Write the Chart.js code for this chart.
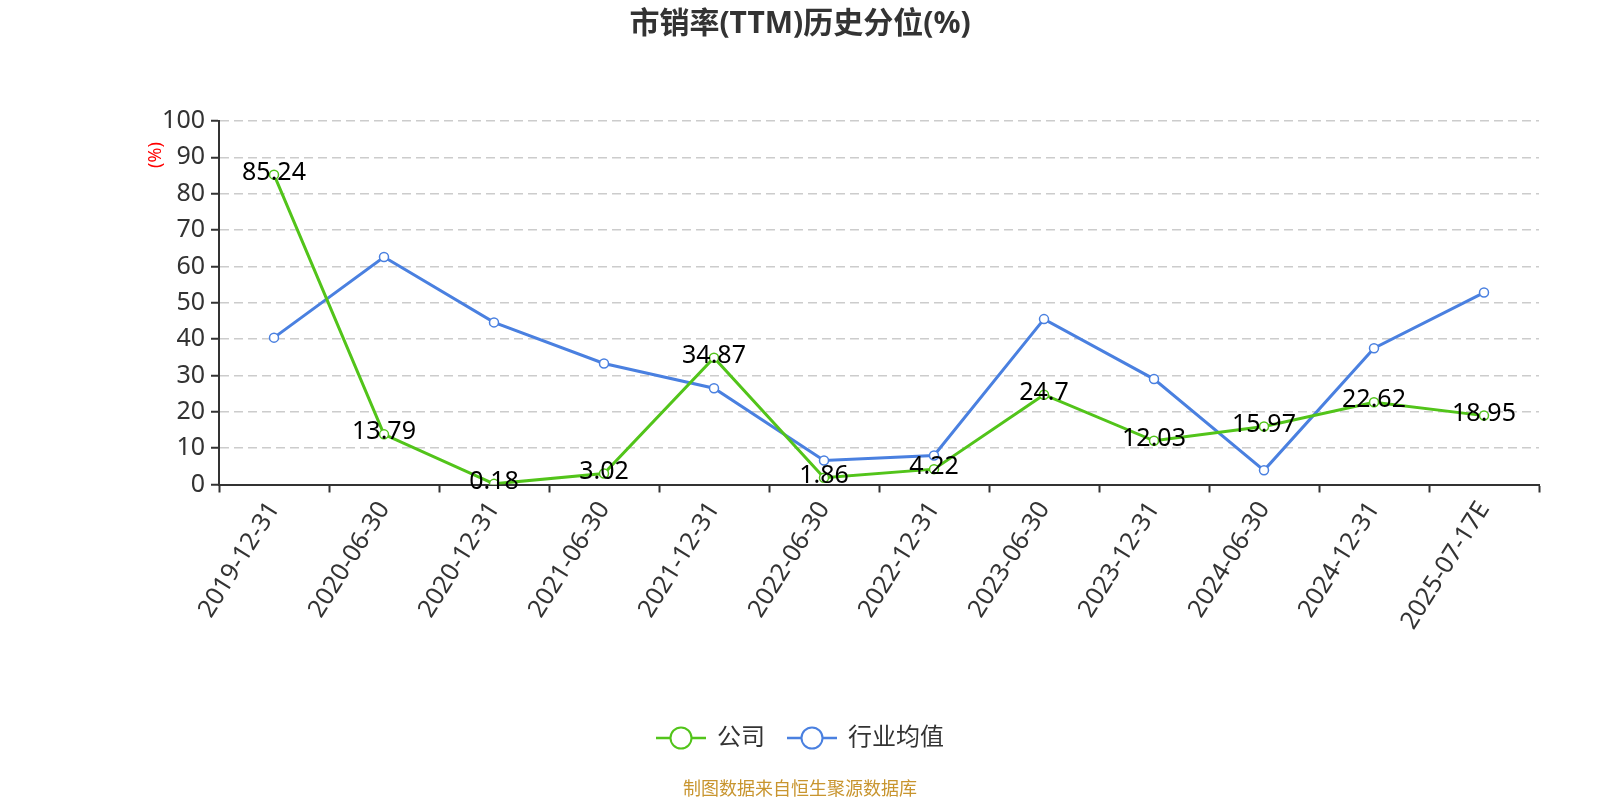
<!DOCTYPE html>
<html>
<head>
<meta charset="utf-8">
<script src="https://cdn.jsdelivr.net/npm/chart.js@4.4.1/dist/chart.umd.min.js"></script>
<style>
  html, body { margin: 0; padding: 0; background: #fff; }
  #wrap { width: 1600px; height: 800px; position: relative; }
</style>
</head>
<body>
<div id="wrap"><canvas id="chart"></canvas></div>
<script>
// ================= DATA =================
const categories = [
  "2019-12-31", "2020-06-30", "2020-12-31", "2021-06-30", "2021-12-31", "2022-06-30",
  "2022-12-31", "2023-06-30", "2023-12-31", "2024-06-30", "2024-12-31", "2025-07-17E"
];
const companyValues = [85.24, 13.79, 0.18, 3.02, 34.87, 1.86, 4.22, 24.7, 12.03, 15.97, 22.62, 18.95];
const industryValues = [40.4, 62.6, 44.6, 33.3, 26.5, 6.6, 8.0, 45.5, 29.0, 3.9, 37.5, 52.8];
const seriesNames = ["公司", "行业均值"];
const yMin = 0;
const yMax = 100;
const yStep = 10;

const titleText = "市销率(TTM)历史分位(%)";
const unitText = "(%)";
const sourceText = "制图数据来自恒生聚源数据库";

const GREEN = "#52c41a";
const BLUE = "#4a80e0";
const FONT = "'Noto Sans', 'Noto Sans CJK SC', sans-serif";


// ================= TEXT + LEGEND PLUGIN =================
const decorPlugin = {
  id: "decor",
  afterDraw(chart) {
    const ctx = chart.ctx;
    ctx.save();

    // title
    ctx.fillStyle = "#333";
    ctx.font = "bold 30px " + FONT;
    ctx.textAlign = "center";
    ctx.textBaseline = "middle";
    ctx.fillText(titleText, 800, 24);

    // source
    ctx.fillStyle = "#c8952f";
    ctx.font = "18px " + FONT;
    ctx.fillText(sourceText, 800, 790);

    // y unit
    ctx.save();
    ctx.translate(156, 155);
    ctx.rotate(-Math.PI / 2);
    ctx.fillStyle = "red";
    ctx.font = "18px " + FONT;
    ctx.fillText(unitText, 0, 0);
    ctx.restore();

    // legend
    ctx.font = "24px " + FONT;
    const iconW = 50, gapText = 11, gapItem = 22;
    const items = chart.data.datasets.map(ds => ({
      label: ds.label,
      color: ds.borderColor,
      w: iconW + gapText + ctx.measureText(ds.label).width
    }));
    const total = items.reduce((s, it) => s + it.w, 0) + gapItem * (items.length - 1);
    let x = 800 - total / 2;
    const ly = 738;
    items.forEach(it => {
      ctx.strokeStyle = it.color;
      ctx.lineWidth = 2.5;
      ctx.beginPath();
      ctx.moveTo(x, ly);
      ctx.lineTo(x + iconW, ly);
      ctx.stroke();
      ctx.beginPath();
      ctx.arc(x + iconW / 2, ly, 10.5, 0, Math.PI * 2);
      ctx.fillStyle = "#fff";
      ctx.fill();
      ctx.lineWidth = 2;
      ctx.stroke();
      ctx.fillStyle = "#333";
      ctx.textAlign = "left";
      ctx.fillText(it.label, x + iconW + gapText, ly);
      x += it.w + gapItem;
    });

    ctx.restore();
  }
};


// ================= VALUE LABELS =================
const valueLabelPlugin = {
  id: "valueLabels",
  afterDatasetsDraw(chart) {
    const ctx = chart.ctx;
    const meta = chart.getDatasetMeta(0);
    const data = chart.data.datasets[0].data;
    ctx.save();
    ctx.fillStyle = "#000";
    ctx.font = "25px " + FONT;
    ctx.textAlign = "center";
    ctx.textBaseline = "middle";
    meta.data.forEach((pt, i) => {
      ctx.fillText(String(data[i]), pt.x, pt.y - 2);
    });
    ctx.restore();
  }
};


// ================= CHART =================
new Chart(document.getElementById("chart"), {
  type: "line",
  data: {
    labels: categories,
    datasets: [
      {
        label: seriesNames[0],
        data: companyValues,
        borderColor: GREEN,
        backgroundColor: "#fff",
        borderWidth: 3,
        pointRadius: 4.5,
        pointBorderWidth: 1.5,
        pointBackgroundColor: "#fff",
        pointBorderColor: GREEN,
        tension: 0
      },
      {
        label: seriesNames[1],
        data: industryValues,
        borderColor: BLUE,
        backgroundColor: "#fff",
        borderWidth: 3,
        pointRadius: 4.5,
        pointBorderWidth: 1.5,
        pointBackgroundColor: "#fff",
        pointBorderColor: BLUE,
        tension: 0
      }
    ]
  },
  options: {
    responsive: true,
    maintainAspectRatio: false,
    animation: false,
    layout: { padding: { left: 0, right: 61, top: 121, bottom: 0 } },
    plugins: {
      legend: { display: false },
      title: { display: false },
      tooltip: { enabled: false }
    },
    scales: {
      x: {
        type: "category",
        offset: true,
        grid: {
          display: true,
          offset: true,
          drawOnChartArea: false,
          drawTicks: true,
          tickLength: 8,
          tickColor: "#333",
          tickWidth: 2
        },
        border: { display: true, color: "#333", width: 2 },
        ticks: {
          autoSkip: false,
          maxRotation: 58,
          minRotation: 58,
          padding: 4,
          color: "#333",
          font: { family: FONT, size: 25 }
        },
        afterFit(scale) { scale.height = 800 - 484.5; }
      },
      y: {
        type: "linear",
        min: yMin,
        max: yMax,
        grid: {
          color: "#cccccc",
          lineWidth: 1.5,
          drawTicks: true,
          tickLength: 8,
          tickColor: "#333",
          tickWidth: 2,
          tickBorderDash: []
        },
        border: { display: true, color: "#333", width: 2, dash: [9, 5] },
        ticks: {
          stepSize: yStep,
          padding: 6,
          color: "#333",
          font: { family: FONT, size: 25 }
        },
        afterFit(scale) { scale.width = 219; }
      }
    }
  },
  plugins: [valueLabelPlugin, decorPlugin]
});
</script>
</body>
</html>
